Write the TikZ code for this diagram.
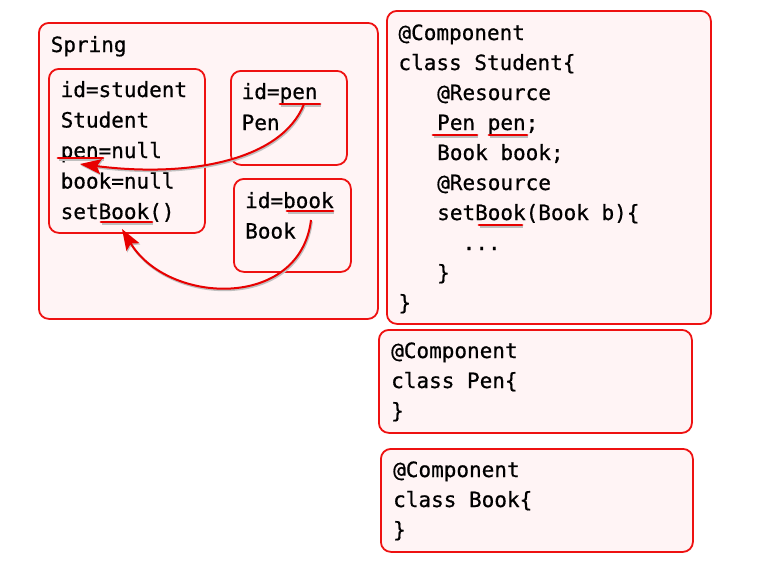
\documentclass[tikz,border=0pt]{standalone}
\usepackage{fontspec}
\newfontfamily\codefont[FakeBold=0.7]{DejaVu Sans Mono}
\usetikzlibrary{arrows.meta}
\definecolor{boxred}{HTML}{EE1111}
\definecolor{boxfill}{HTML}{FFF4F5}
\definecolor{mark}{HTML}{E80000}
\begin{document}
\begin{tikzpicture}[x=1pt,y=-1pt,
  box/.style={draw=boxred, line width=1.8pt, fill=boxfill, rounded corners=10pt, anchor=north west, inner sep=0pt},
  code/.style={anchor=base west, inner sep=0pt, font=\codefont\fontsize{21}{30}\selectfont},
  shade/.style={preaction={draw=black!25, line width=2.2pt, transform canvas={shift={(0.8pt,-1.4pt)}}}},
  uline/.style={draw=mark, line width=2.8pt, line cap=round, shade},
  arr/.style={draw=mark, line width=2pt, -{Stealth[length=21pt,width=15pt,inset=4pt]}, shade}
]
\useasboundingbox (0,0) rectangle (757,563);

% boxes
\node[box, minimum width=339pt, minimum height=296pt] (spring) at (38,22) {};
\node[box, minimum width=156pt, minimum height=164pt] (stu) at (48,68) {};
\node[box, minimum width=116pt, minimum height=94pt] (penb) at (230,70) {};
\node[box, minimum width=117pt, minimum height=93pt] (bookb) at (233,178) {};
\node[box, minimum width=324pt, minimum height=313pt] (cstu) at (386,10) {};
\node[box, minimum width=313pt, minimum height=103pt] (cpen) at (378,329) {};
\node[box, minimum width=312pt, minimum height=103pt] (cbook) at (380,448) {};

% Spring texts
\node[code] (t0) at (50.5,52) {Spring};
\node[code] (s1) at (60.5,97) {id=student};
\node[code] (s2) at (60.5,127.5) {Student};
\node[code] (s3) at (60.5,158) {pen=null};
\node[code] (s4) at (60.5,188.5) {book=null};
\node[code] (s5) at (60.5,219) {setBook()};
\node[code] (p1) at (241.5,99) {id=pen};
\node[code] (p2) at (241.5,130) {Pen};
\node[code] (b1) at (245,208) {id=book};
\node[code] (b2) at (245,238.5) {Book};

% Student class
\node[code] (c1) at (398.3,40) {@Component};
\node[code] (c2) at (398.3,70) {class Student\{};
\node[code] (c3) at (437,100) {@Resource};
\node[code] (c4) at (437,130) {Pen pen;};
\node[code] (c5) at (437,160) {Book book;};
\node[code] (c6) at (437,190) {@Resource};
\node[code] (c7) at (437,220) {setBook(Book b)\{};
\node[code] (c8) at (462.5,250) {...};
\node[code] (c9) at (437,280) {\}};
\node[code] (c10) at (398.3,310) {\}};

% Pen class
\node[code] (d1) at (391,358) {@Component};
\node[code] (d2) at (391,388) {class Pen\{};
\node[code] (d3) at (391,418) {\}};

% Book class
\node[code] (e1) at (393,477) {@Component};
\node[code] (e2) at (393,507) {class Book\{};
\node[code] (e3) at (393,537) {\}};

% underlines
\draw[uline] (280,104) -- (320,104);
\draw[uline] (58,158) -- (103,158);
\draw[uline] (287,211) -- (333,211);
\draw[uline] (101,222) -- (152,222);
\draw[uline] (433,135) -- (477,135);
\draw[uline] (489,135) -- (527,135);
\draw[uline] (479,225) -- (522,225);

% arrows
\coordinate (penfrom) at (304,104);
\coordinate (pento) at (80,164);
\coordinate (bookfrom) at (311,220);
\coordinate (bookto) at (122,229);
\draw[arr] (penfrom) .. controls (282,160) and (190,178) .. (pento);
\draw[arr] (bookfrom) .. controls (300,310) and (168,305) .. (bookto);
\end{tikzpicture}
\end{document}
